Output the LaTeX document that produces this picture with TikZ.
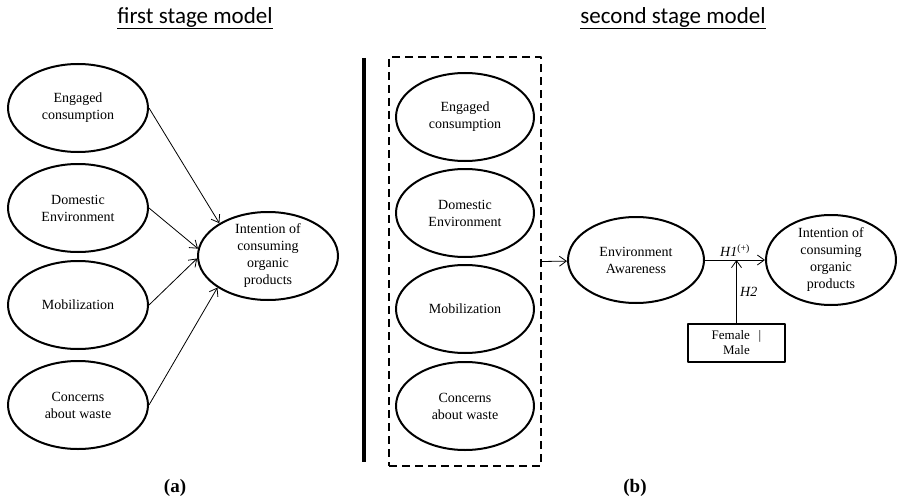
\documentclass[tikz,border=0pt]{standalone}
\usepackage{fontspec}
\setmainfont{Liberation Serif}
\newfontfamily\titlefont{Carlito}
\usetikzlibrary{shapes.geometric,arrows.meta,fit}
\begin{document}
\begin{tikzpicture}[
  x={(1pt,0pt)},
  y={(0pt,-1pt)},
  line join=round,
  latent/.style={ellipse,draw=black,line width=2pt,minimum width=140pt,minimum height=88pt,
    inner sep=0pt,align=center,font=\fontsize{14}{17}\selectfont},
  path/.style={draw=black,line width=0.8pt,-{Straight Barb[length=7pt,width=10pt]}},
  heading/.style={font=\titlefont\fontsize{23}{26}\selectfont},
  caption/.style={font=\bfseries\fontsize{19}{22}\selectfont},
  groupframe/.style={draw=black,line width=2pt,dash pattern=on 8pt off 5pt},
  modbox/.style={draw=black,line width=2pt,minimum width=97pt,minimum height=38pt,
    inner sep=0pt,align=center,font=\fontsize{13}{15}\selectfont}
]
  \useasboundingbox (0,0) rectangle (897,503);

  % Headings and captions.
  \node[heading] (t1) at (195,18) {\underline{first stage model}};
  \node[heading] (t2) at (673,18) {\underline{second stage model}};
  \node[caption] (ca) at (175,488) {(a)};
  \node[caption] (cb) at (635,488) {(b)};

  % (a) first stage model.
  \foreach \n/\y/\t in {eng/108/{Engaged\\consumption},dom/208/{Domestic\\Environment},
                        mob/305/{Mobilization},was/405/{Concerns\\about waste}} {
    \node[latent] (a\n) at (78,\y) {\t};
  }
  \node[latent,inner ysep=-4pt] (aint) at (268,256) {Intention of\\consuming\\organic\\products};

  \draw[path] (aeng.east) -- (aint.146);
  \draw[path] (adom.east) -- (aint.174);
  \draw[path] (amob.east) -- (aint.182);
  \draw[path] (awas.east) -- (aint.212);

  % Separator between the two models.
  \draw[line width=3.5pt] (364,58) -- (364,462);

  % (b) second stage model.
  \foreach \n/\y/\t in {eng/117/{Engaged\\consumption},dom/213/{Domestic\\Environment},
                        mob/309/{Mobilization},was/406/{Concerns\\about waste}} {
    \node[latent,minimum width=138pt] (b\n) at (465,\y) {\t};
  }
  \node[groupframe,fit=(beng)(bwas),inner xsep=6pt,inner ysep=15pt] (grp) {};

  \node[latent,minimum width=136pt,minimum height=86pt] (env) at (636,260) {Environment\\Awareness};
  \node[latent,minimum width=130pt,minimum height=90pt,inner ysep=-4pt] (bint) at (831,260)
    {Intention of\\consuming\\organic\\products};
  \node[modbox] (sex) at (736.5,343) {Female\enspace\,|\\Male};

  \draw[path] (grp.east) -- (env);
  \draw[path] (env) -- node[above,font=\fontsize{14}{17}\selectfont] {\textit{H1}\textsuperscript{(+)}} (bint);
  \draw[path] (sex.north) -- node[right,font=\fontsize{14}{17}\selectfont] {\textit{H2}} (sex.north |- env);
\end{tikzpicture}
\end{document}
